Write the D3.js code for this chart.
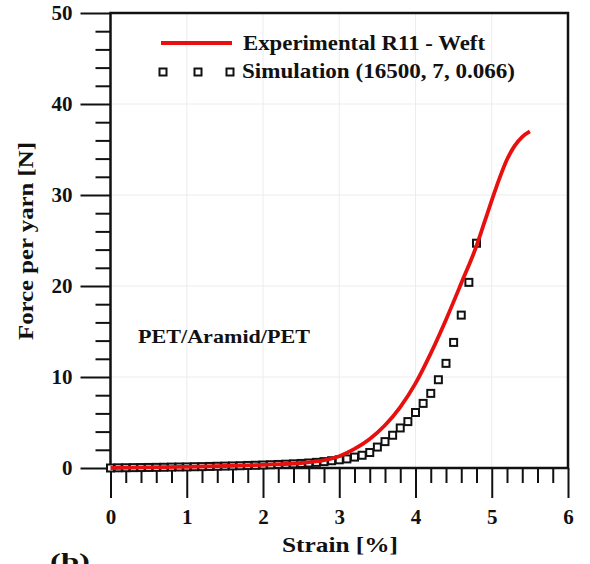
<!DOCTYPE html>
<html>
<head>
<meta charset="utf-8">
<script src="https://cdn.jsdelivr.net/npm/d3@7"></script>
<style>
  body { margin: 0; background: #fff; }
  svg text { font-family: "Liberation Serif", "Times New Roman", serif; font-weight: bold; fill: #111; }
</style>
</head>
<body>
<svg id="chart"></svg>
<script>
"use strict";

const width = 590;
const height = 564;

// experimental curve (strain %, force N)
const expStrain = [0, 0.5, 1.0, 1.5, 2.0, 2.5, 2.8, 3.0, 3.2, 3.4, 3.6, 3.8, 4.0, 4.2, 4.4, 4.6, 4.8, 4.9, 5.0, 5.1, 5.2, 5.3, 5.4, 5.5];
const expForce  = [0, 0.06, 0.13, 0.22, 0.35, 0.55, 0.85, 1.3, 2.1, 3.2, 4.7, 6.7, 9.3, 12.6, 16.3, 20.3, 24.4, 26.9, 29.4, 31.8, 33.9, 35.4, 36.4, 37.0];

// simulation points, every 0.1 % strain
const simStrain = d3.range(0, 49).map(i => i / 10);
const simForce = [0.0, 0.02, 0.03, 0.04, 0.05, 0.06, 0.07, 0.08, 0.10, 0.11,
                  0.12, 0.14, 0.15, 0.17, 0.19, 0.21, 0.23, 0.25, 0.28, 0.30,
                  0.33, 0.36, 0.39, 0.42, 0.46, 0.50, 0.55, 0.62, 0.70, 0.80,
                  0.90, 1.0, 1.2, 1.4, 1.7, 2.3, 2.9, 3.6, 4.4, 5.1,
                  6.1, 7.1, 8.2, 9.7, 11.5, 13.8, 16.8, 20.4, 24.7];

const xMajor = [0, 1, 2, 3, 4, 5, 6];
const yMajor = [0, 10, 20, 30, 40, 50];
const xMinor = d3.range(0, 31).map(i => i / 5).filter(v => Math.abs(v - Math.round(v)) > 1e-6);
const yMinor = d3.range(0, 26).map(i => i * 2).filter(v => v % 10 !== 0);

const legendLabels = ["Experimental R11 - Weft", "Simulation (16500, 7, 0.066)"];

const x = d3.scaleLinear([0, 6], [110.5, 568]);
const y = d3.scaleLinear([0, 50], [468, 13]);

const svg = d3.select("#chart")
    .attr("width", width)
    .attr("height", height);

// grid
svg.append("g")
    .selectAll("line")
    .data(xMajor.slice(1, -1))
    .enter()
    .append("line")
    .attr("x1", d => x(d)).attr("x2", d => x(d))
    .attr("y1", y(0)).attr("y2", y(50))
    .attr("stroke", "#ececec").attr("stroke-width", 1);
svg.append("g")
    .selectAll("line")
    .data(yMajor.slice(1, -1))
    .enter()
    .append("line")
    .attr("x1", x(0)).attr("x2", x(6))
    .attr("y1", d => y(d)).attr("y2", d => y(d))
    .attr("stroke", "#ececec").attr("stroke-width", 1);

// axes
function styleAxis(g) {
    g.select(".domain").remove();
    g.selectAll("line").attr("stroke", "#111").attr("stroke-width", 2);
    g.selectAll("text")
        .attr("font-size", 21)
        .attr("font-family", "Liberation Serif, serif")
        .attr("font-weight", "bold")
        .attr("fill", "#111");
}

svg.append("g")
    .attr("transform", `translate(0, ${y(0)})`)
    .call(d3.axisBottom(x).tickValues(xMinor).tickSize(15).tickFormat(""))
    .call(styleAxis);
svg.append("g")
    .attr("transform", `translate(0, ${y(0)})`)
    .call(d3.axisBottom(x).tickValues(xMajor).tickSize(30).tickPadding(11).tickFormat(d3.format("d")))
    .call(styleAxis);

svg.append("g")
    .attr("transform", `translate(${x(0)}, 0)`)
    .call(d3.axisLeft(y).tickValues(yMinor).tickSize(15).tickFormat(""))
    .call(styleAxis);
svg.append("g")
    .attr("transform", `translate(${x(0)}, 0)`)
    .call(d3.axisLeft(y).tickValues(yMajor).tickSize(30).tickPadding(8).tickFormat(d3.format("d")))
    .call(styleAxis);

// frame
svg.append("rect")
    .attr("x", x(0)).attr("y", y(50))
    .attr("width", x(6) - x(0)).attr("height", y(0) - y(50))
    .attr("fill", "none").attr("stroke", "#111").attr("stroke-width", 2.5);

// simulation markers
const ms = 7;
svg.append("g")
    .selectAll("rect")
    .data(simStrain.map((s, i) => [s, simForce[i]]))
    .enter()
    .append("rect")
    .attr("x", d => x(d[0]) - ms / 2)
    .attr("y", d => y(d[1]) - ms / 2)
    .attr("width", ms).attr("height", ms)
    .attr("fill", "#fff").attr("stroke", "#111").attr("stroke-width", 2);

// experimental line
const line = d3.line()
    .x(d => x(d[0]))
    .y(d => y(d[1]))
    .curve(d3.curveMonotoneX);
svg.append("path")
    .datum(expStrain.map((s, i) => [s, expForce[i]]))
    .attr("d", line)
    .attr("fill", "none")
    .attr("stroke", "#e8100e")
    .attr("stroke-width", 3.8);

// legend
svg.append("line")
    .attr("x1", 161).attr("x2", 232).attr("y1", 43).attr("y2", 43)
    .attr("stroke", "#e8100e").attr("stroke-width", 4);
svg.append("text").attr("x", 243).attr("y", 50).attr("font-size", 21)
    .attr("textLength", 242).attr("lengthAdjust", "spacingAndGlyphs")
    .text(legendLabels[0]);
svg.append("g")
    .selectAll("rect")
    .data([163, 198, 230])
    .enter()
    .append("rect")
    .attr("x", d => d - ms / 2).attr("y", 72 - ms / 2)
    .attr("width", ms).attr("height", ms)
    .attr("fill", "#fff").attr("stroke", "#111").attr("stroke-width", 2);
svg.append("text").attr("x", 242).attr("y", 78).attr("font-size", 21)
    .attr("textLength", 273).attr("lengthAdjust", "spacingAndGlyphs")
    .text(legendLabels[1]);

// annotation
svg.append("text").attr("x", 138).attr("y", 343).attr("font-size", 19)
    .attr("textLength", 172).attr("lengthAdjust", "spacingAndGlyphs")
    .text("PET/Aramid/PET");

// axis titles
svg.append("text")
    .attr("x", 282).attr("y", 552)
    .attr("font-size", 22)
    .attr("textLength", 116).attr("lengthAdjust", "spacingAndGlyphs")
    .text("Strain [%]");
svg.append("text")
    .attr("transform", "translate(33, 340) rotate(-90)")
    .attr("font-size", 21)
    .attr("textLength", 198).attr("lengthAdjust", "spacingAndGlyphs")
    .text("Force per yarn [N]");

// panel label (cut by the bottom edge)
svg.append("text").attr("x", 50).attr("y", 568).attr("font-size", 22)
    .attr("textLength", 40).attr("lengthAdjust", "spacingAndGlyphs")
    .text("(b)");
</script>
</body>
</html>
